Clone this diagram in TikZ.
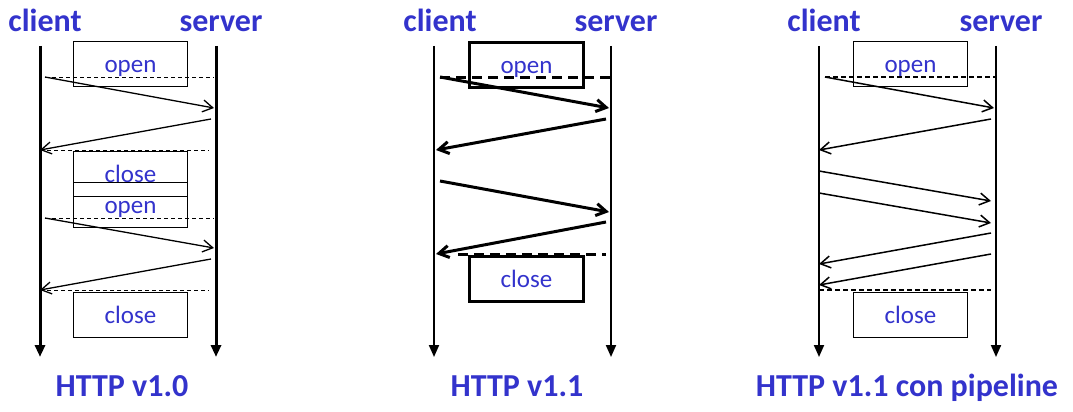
\documentclass[tikz,border=0pt]{standalone}
\usepackage{fontspec}
\setmainfont{Carlito}
\usepackage{xcolor}
\usetikzlibrary{arrows.meta}
\definecolor{labelblue}{RGB}{51, 51, 204}

\begin{document}
\begin{tikzpicture}[
    x=1pt, y=-1pt,
    actor/.style={
      anchor=base,
      inner sep=0pt,
      text=labelblue,
      font=\fontsize{32}{32}\selectfont\bfseries
    },
    phase/.style={
      rectangle,
      draw=black,
      line width=1pt,
      anchor=north west,
      minimum width=114pt,
      minimum height=45pt,
      inner sep=0pt,
      text height=17pt,
      text depth=0pt,
      text=labelblue,
      font=\fontsize{25}{25}\selectfont
    },
    lifeline/.style={-{Triangle[length=12pt, width=10pt]}, line width=2pt},
    msg/.style={-{Straight Barb[length=10pt, width=12pt]}, line width=1.3pt},
    sync/.style={dash pattern=on 4pt off 3pt, line width=1pt}
  ]
  \useasboundingbox (0,0) rectangle (1073,412);

  \begin{scope}[xshift=40pt, name prefix=v10-]
    \coordinate (c-top) at (0,46);
    \coordinate (c-bot) at (0,357);
    \coordinate (s-top) at (176,46);
    \coordinate (s-bot) at (176,357);
    \node[actor] (client) at (5,32) {client};
    \node[actor] (server) at (181,32) {server};
    \node[actor] (title) at (82,396) {HTTP v1.0};

    \node[phase] (open1) at (33,41) {open};
    \node[phase] (close1) at (33,151) {close};
    \node[phase] (open2) at (33,182) {open};
    \node[phase] (close2) at (33,292) {close};

    \coordinate (req1-a) at (5,77);
    \coordinate (req1-b) at (174,108);
    \coordinate (sync1) at (174,77);
    \coordinate (res1-a) at (171,119);
    \coordinate (res1-b) at (0,150);
    \coordinate (sync2) at (169,150);
    \coordinate (req2-a) at (5,218);
    \coordinate (req2-b) at (174,248);
    \coordinate (sync3) at (174,218);
    \coordinate (res2-a) at (171,259);
    \coordinate (res2-b) at (0,290);
    \coordinate (sync4) at (169,290);

    \draw[lifeline, line width=3pt] (c-top) -- (c-bot);
    \draw[lifeline, line width=3pt] (s-top) -- (s-bot);
    \draw[sync] (req1-a) -- (sync1);
    \draw[sync] (res1-b) -- (sync2);
    \draw[sync] (req2-a) -- (sync3);
    \draw[sync] (res2-b) -- (sync4);
    \draw[msg] (req1-a) -- (req1-b);
    \draw[msg] (res1-a) -- (res1-b);
    \draw[msg] (req2-a) -- (req2-b);
    \draw[msg] (res2-a) -- (res2-b);
  \end{scope}

  \begin{scope}[xshift=434pt, name prefix=v11-]
    \coordinate (c-top) at (0,46);
    \coordinate (c-bot) at (0,357);
    \coordinate (s-top) at (177,46);
    \coordinate (s-bot) at (177,357);
    \node[actor] (client) at (6,32) {client};
    \node[actor] (server) at (182,32) {server};
    \node[actor] (title) at (83,396) {HTTP v1.1};

    \node[phase, line width=3pt] (open) at (34,41) {open};
    \node[phase, line width=3pt] (close) at (34,255) {close};

    \coordinate (req1-a) at (6,77);
    \coordinate (req1-b) at (175,108);
    \coordinate (sync1) at (177,77);
    \coordinate (res1-a) at (172,119);
    \coordinate (res1-b) at (2,150);
    \coordinate (req2-a) at (6,181);
    \coordinate (req2-b) at (175,212);
    \coordinate (res2-a) at (172,222);
    \coordinate (res2-b) at (2,254);
    \coordinate (sync2-a) at (24,254);
    \coordinate (sync2-b) at (172,254);

    \draw[lifeline] (c-top) -- (c-bot);
    \draw[lifeline] (s-top) -- (s-bot);
    \draw[sync, line width=3pt, dash pattern=on 10pt off 6pt] (req1-a) -- (sync1);
    \draw[sync, line width=3pt, dash pattern=on 10pt off 6pt] (sync2-a) -- (sync2-b);
    \draw[msg, line width=3pt] (req1-a) -- (req1-b);
    \draw[msg, line width=3pt] (res1-a) -- (res1-b);
    \draw[msg, line width=3pt] (req2-a) -- (req2-b);
    \draw[msg, line width=3pt] (res2-a) -- (res2-b);
  \end{scope}

  \begin{scope}[xshift=819pt, name prefix=pipe-]
    \coordinate (c-top) at (0,46);
    \coordinate (c-bot) at (0,357);
    \coordinate (s-top) at (177,46);
    \coordinate (s-bot) at (177,357);
    \node[actor] (client) at (5,32) {client};
    \node[actor] (server) at (182,32) {server};
    \node[actor] (title) at (88,396) {HTTP v1.1 con pipeline};

    \node[phase] (open) at (34,41) {open};
    \node[phase] (close) at (34,292) {close};

    \coordinate (req1-a) at (6,77);
    \coordinate (req1-b) at (175,108);
    \coordinate (sync1) at (177,77);
    \coordinate (res1-a) at (172,119);
    \coordinate (res1-b) at (0,150);
    \coordinate (req2-a) at (0,171);
    \coordinate (req2-b) at (172,201);
    \coordinate (req3-a) at (0,193);
    \coordinate (req3-b) at (172,223);
    \coordinate (res2-a) at (172,233);
    \coordinate (res2-b) at (0,264);
    \coordinate (res3-a) at (172,254);
    \coordinate (res3-b) at (0,285);
    \coordinate (sync2-a) at (0,290);
    \coordinate (sync2-b) at (172,290);

    \draw[lifeline] (c-top) -- (c-bot);
    \draw[lifeline] (s-top) -- (s-bot);
    \draw[sync, line width=1.4pt, dash pattern=on 5pt off 3pt] (req1-a) -- (sync1);
    \draw[sync, line width=1.4pt, dash pattern=on 5pt off 3pt] (sync2-a) -- (sync2-b);
    \draw[msg, line width=1.5pt] (req1-a) -- (req1-b);
    \draw[msg, line width=1.5pt] (res1-a) -- (res1-b);
    \draw[msg, line width=1.5pt] (req2-a) -- (req2-b);
    \draw[msg, line width=1.5pt] (req3-a) -- (req3-b);
    \draw[msg, line width=1.5pt] (res2-a) -- (res2-b);
    \draw[msg, line width=1.5pt] (res3-a) -- (res3-b);
  \end{scope}
\end{tikzpicture}
\end{document}
